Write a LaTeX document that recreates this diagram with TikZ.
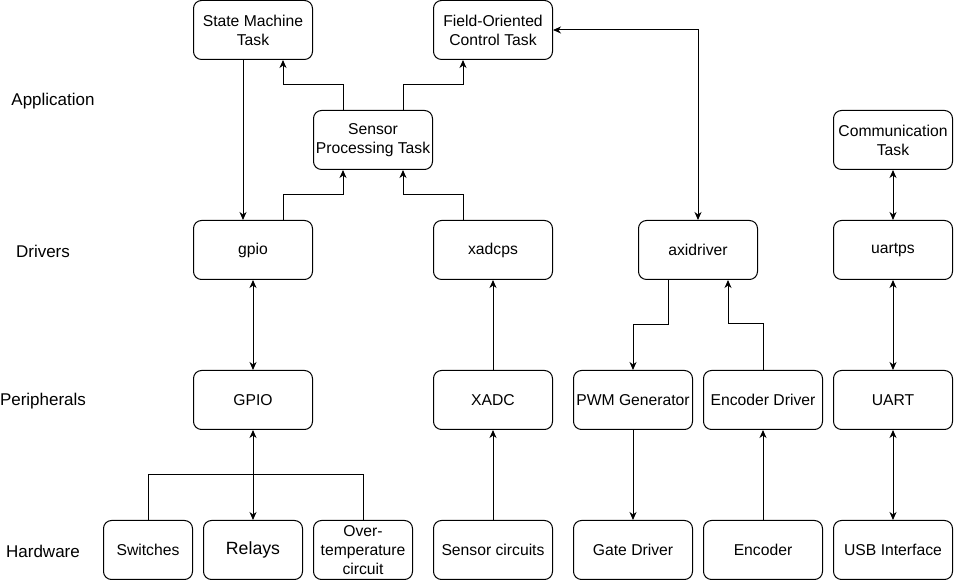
\documentclass[tikz,border=0pt]{standalone}
\usepackage{fontspec}
\setmainfont{Liberation Sans}
\usetikzlibrary{arrows.meta,calc}
\tikzset{
  box/.style={draw, line width=1pt, rounded corners=8pt, minimum width=119pt,
    minimum height=59pt, inner sep=1pt, align=center,
    font=\fontsize{15.7}{19}\selectfont},
  layer/.style={font=\fontsize{17}{20}\selectfont},
  arr/.style={line width=1pt, -{Stealth[length=8pt,width=7pt,inset=2.5pt]}},
  biarr/.style={line width=1pt, {Stealth[length=8pt,width=7pt,inset=2.5pt]}-{Stealth[length=8pt,width=7pt,inset=2.5pt]}},
  link/.style={line width=1pt}
}
\begin{document}
\begin{tikzpicture}[x=1pt,y=1pt]
\useasboundingbox (0,0) rectangle (954,583);
\node[layer] (lapp) at (53,482) {Application};
\node[layer] (ldrv) at (43,332) {Drivers};
\node[layer] (lper) at (43,182) {Peripherals};
\node[layer] (lhw) at (43,32) {Hardware};
% application
\node[box] (sm) at (253,553) {State Machine\\Task};
\node[box] (foc) at (493,553) {Field-Oriented\\Control Task};
\node[box] (spt) at (373,443) {Sensor\\Processing Task};
\node[box] (comm) at (893,443) {Communication\\Task};
% drivers
\node[box] (gpio) at (253,333) {gpio};
\node[box] (xadcps) at (493,333) {xadcps};
\node[box] (axi) at (698,333) {axidriver};
\node[box] (uartps) at (893,333) {uartps};
% peripherals
\node[box] (GPIO) at (253,183) {GPIO};
\node[box] (xadc) at (493,183) {XADC};
\node[box] (pwm) at (633,183) {PWM Generator};
\node[box] (encdrv) at (763,183) {Encoder Driver};
\node[box] (uart) at (893,183) {UART};
% hardware
\node[box,minimum width=89pt] (sw) at (148,33) {Switches};
\node[box,minimum width=99pt,font=\fontsize{17.7}{21}\selectfont] (relays) at (253,33) {Relays};
\node[box,minimum width=99pt] (ot) at (363,33) {Over-\\temperature\\circuit};
\node[box] (sens) at (493,33) {Sensor circuits};
\node[box] (gate) at (633,33) {Gate Driver};
\node[box] (enc) at (763,33) {Encoder};
\node[box] (usb) at (893,33) {USB Interface};
% connectors
\draw[arr] ([xshift=-10pt]sm.south) -- ([xshift=-10pt]gpio.north);
\draw[arr] ([xshift=-30pt]spt.north) -- ++(0,25) -| ([xshift=30pt]sm.south);
\draw[arr] ([xshift=30pt]spt.north) -- ++(0,25) -| ([xshift=-30pt]foc.south);
\draw[arr] ([xshift=30pt]gpio.north) -- ++(0,25) -| ([xshift=-30pt]spt.south);
\draw[arr] ([xshift=-30pt]xadcps.north) -- ++(0,25) -| ([xshift=30pt]spt.south);
\draw[biarr] (foc.east) -| (axi.north);
\draw[biarr] (comm.south) -- (uartps.north);
\draw[biarr] (gpio.south) -- (GPIO.north);
\draw[arr] (xadc.north) -- (xadcps.south);
\draw[arr] ([xshift=-30pt]axi.south) -- ++(0,-45) -| (pwm.north);
\draw[arr] (encdrv.north) -- ++(0,46) -| ([xshift=30pt]axi.south);
\draw[biarr] (uartps.south) -- (uart.north);
\draw[biarr] (GPIO.south) -- (relays.north);
\draw[link] (sw.north) -- ++(0,45) -| (ot.north);
\draw[arr] (sens.north) -- (xadc.south);
\draw[arr] (pwm.south) -- (gate.north);
\draw[arr] (enc.north) -- (encdrv.south);
\draw[biarr] (uart.south) -- (usb.north);
\end{tikzpicture}
\end{document}
